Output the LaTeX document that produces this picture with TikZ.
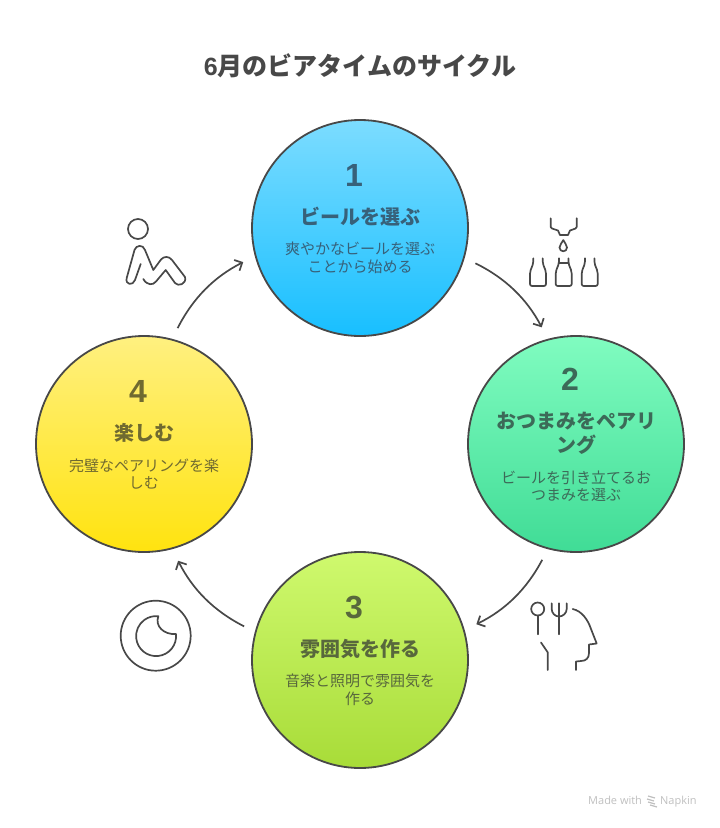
\documentclass[tikz,border=0pt]{standalone}
\usepackage{fontspec}
\setmainfont{Noto Sans CJK JP}
\newfontfamily\markfont{Open Sans}
\newfontfamily\numfont{Liberation Sans}
\usetikzlibrary{arrows.meta}

\definecolor{inkgray}{HTML}{484848}
\definecolor{bluetop}{HTML}{7CDCFF}
\definecolor{bluebot}{HTML}{18BFFF}
\definecolor{greentop}{HTML}{80FCC0}
\definecolor{greenbot}{HTML}{40DC96}
\definecolor{limetop}{HTML}{CFF96E}
\definecolor{limebot}{HTML}{A8DC38}
\definecolor{yellowtop}{HTML}{FFF080}
\definecolor{yellowbot}{HTML}{FFE30F}
\definecolor{bluetext}{HTML}{37617A}
\definecolor{greentext}{HTML}{3C6A58}
\definecolor{limetext}{HTML}{58683C}
\definecolor{yellowtext}{HTML}{706A30}

\tikzset{
  stepcircle/.style={circle, draw=inkgray, line width=1.8pt, minimum size=216pt, inner sep=0pt},
  stepnum/.style={font=\fontsize{32}{36}\selectfont\numfont\bfseries},
  steptitle/.style={font=\fontsize{20}{24}\selectfont\bfseries, align=center, text width=170pt},
  stepdesc/.style={font=\fontsize{15}{17.5}\selectfont, align=center, text width=170pt},
  flow/.style={-{Straight Barb[length=6pt,width=12pt]}, draw=inkgray, line width=1.7pt, shorten <=12pt, shorten >=13pt},
  icon/.style={draw=inkgray, line width=1.7pt, line cap=round, line join=round},
  footer/.style={font=\fontsize{11}{13}\selectfont\markfont, text=black!25, anchor=base west, inner sep=0pt},
}

\begin{document}
\begin{tikzpicture}[x=1pt, y=-1pt]
\useasboundingbox (0,0) rectangle (720,828);

\node[font=\fontsize{25}{30}\selectfont\bfseries, text=inkgray] (title) at (360,66) {{\numfont 6}月のビアタイムのサイクル};

% the four steps
\foreach \n/\cx/\cy/\cname/\gap/\stitle/\sdesc in {
  1/360/228/blue/0/{ビールを選ぶ}/{爽やかなビールを選ぶ\\ことから始める},
  2/576/444/green/12/{おつまみをペアリ\\ング}/{ビールを引き立てるお\\つまみを選ぶ},
  3/360/660/lime/0/{雰囲気を作る}/{音楽と照明で雰囲気を\\作る},
  4/144/444/yellow/0/{楽しむ}/{完璧なペアリングを楽\\しむ}}
{
  \node[stepcircle, top color=\cname top, bottom color=\cname bot] (C\n) at (\cx,\cy) {};
  \node[stepnum, text=\cname text] (N\n) at (\cx-6,\cy-53-\gap) {\n};
  \node[steptitle, text=\cname text] (T\n) at (\cx,\cy-11) {\stitle};
  \node[stepdesc, text=\cname text] (D\n) at (\cx,\cy+30+\gap) {\sdesc};
}

% the cycle
\draw[flow] (C1.-16) to[bend left=18] (C2.105);
\draw[flow] (C2.-105) to[bend left=18] (C3.16);
\draw[flow] (C3.165) to[bend left=18] (C4.-75);
\draw[flow] (C4.75) to[bend left=18] (C1.-165);

% person
\draw[icon] (138,229) circle (10);
\draw[icon] (140.7,264) -- (135,280) .. controls (133,286) and (125,285) .. (126.7,278)
  -- (134.5,250) .. controls (136,245) and (143,244) .. (145,250)
  -- (153.3,270) -- (161,259.5) .. controls (164,256) and (169,256) .. (172,260)
  -- (185,277) .. controls (187,284) and (178,287) .. (175,283)
  -- (165.7,270) -- (156,281.5) .. controls (153,285.5) and (147,285.5) .. (143.3,279);

% bottles
\draw[icon] (550.7,218.3) -- (550.7,227) -- (552,228.5) -- (558,230.5) -- (560,235) -- (568,235) -- (570,230.5) -- (575.5,228.5) -- (576.7,227) -- (576.7,218.3);
\draw[icon] (563.3,240) .. controls (562,243) and (559.5,245) .. (559.5,247.5)
  .. controls (559.5,252.5) and (567,252.5) .. (567,247.5)
  .. controls (567,245) and (564.5,243) .. (563.3,240);
\foreach \bx in {530,555.7,581.7}
{
  \draw[icon, rounded corners=2pt] (\bx+3.3,258.3) -- (\bx+3.3,263.3) -- (\bx,271.7) -- (\bx,286) -- (\bx+16,286) -- (\bx+16,271.7) -- (\bx+12.7,263.3) -- (\bx+12.7,258.3);
}
\draw[icon] (559,263.3) -- (568.4,263.3);

% head with spoon and fork
\draw[icon] (537.7,609) circle (6.5);
\draw[icon] (537.7,615.5) -- (537.7,634.3);
\draw[icon] (551.7,603.3) -- (551.7,609) .. controls (551.7,613) and (555,616.5) .. (559,616.5)
  .. controls (563,616.5) and (566.7,613) .. (566.7,609) -- (566.7,603.3);
\draw[icon] (559,603.3) -- (559,634.3);
\draw[icon] (541,642.5) -- (547.7,652.3) -- (547.7,670);
\draw[icon] (572.7,609) .. controls (582,611) and (588,620) .. (591,629) -- (596.7,643.5) -- (589,644.5) -- (589,653)
  .. controls (589,658) and (586,661) .. (581,661) -- (576,661.5) -- (576,670);

% moon
\draw[icon] (155.7,635.7) circle (35);
\draw[icon] (176,634) arc[start angle=-6, end angle=276.6, radius=20]
  .. controls (154.5,626) and (164,635) .. (176,634);

% footer
\node[footer] (made) at (588,804) {Made with};
\node[footer] (napkin) at (660,804) {Napkin};
\foreach \lx/\ly in {648/796,647/799,648/802,650/805}
{
  \draw[black!25, line width=1.2pt] (\lx,\ly) -- (\lx+7,\ly+2);
}
\end{tikzpicture}
\end{document}
